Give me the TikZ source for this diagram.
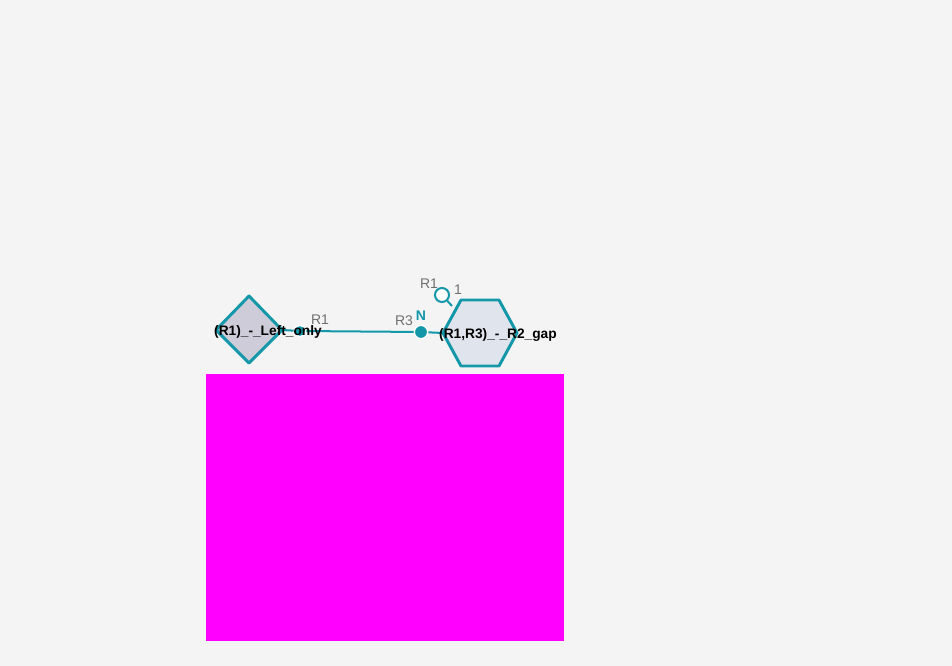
\documentclass[tikz,border=0pt]{standalone}
\usepackage{fontspec}
\setmainfont{Liberation Sans}
\usetikzlibrary{shapes.geometric}
\definecolor{bg}{HTML}{F4F4F4}
\definecolor{teal1}{HTML}{1397A9}
\definecolor{dfill}{HTML}{CDCCD8}
\definecolor{hfill}{HTML}{E0E4EC}
\definecolor{lbl}{HTML}{707070}
\definecolor{mag}{HTML}{FF00FF}
\tikzset{
  x=0.75pt, y=-0.75pt,
  bond/.style={draw=teal1, line width=1.5pt},
  rlabel/.style={text=lbl, font=\fontsize{10.5}{11}\selectfont, inner sep=0pt},
  namelabel/.style={text=black, font=\bfseries\fontsize{10.3}{11}\selectfont, inner sep=0pt},
  atomdot/.style={circle, fill=teal1, draw=white, line width=1pt, inner sep=0pt, minimum size=10pt},
  opendot/.style={circle, fill=white, draw=teal1, line width=1.5pt, inner sep=0pt, minimum size=10.5pt},
}
\begin{document}
\begin{tikzpicture}
\fill[bg] (0,0) rectangle (952,666);
\useasboundingbox (0,0) rectangle (952,666);
% magenta block
\fill[mag] (206,374) rectangle (564,641);
% diamond
\draw[draw=teal1, fill=dfill, line width=2.2pt, line join=round]
  (249,296) -- (282,330) -- (249,363) -- (216,330) -- cycle;
\coordinate (dR) at (282,330);
% hexagon
\draw[draw=teal1, fill=hfill, line width=2.2pt, line join=round]
  (443,333) -- (461,300) -- (499,300) -- (517,333) -- (499,366) -- (461,366) -- cycle;
\coordinate (hL) at (443,333);
\coordinate (hTL) at (452,306);
% connectors
\node[atomdot, minimum size=8.5pt] (d1) at (300,331) {};
\node[atomdot] (n1) at (421,332) {};
\node[opendot] (o1) at (442,295) {};
\draw[bond] (dR) -- (d1);
\draw[bond] (d1) -- (n1);
\draw[bond] (n1) -- (hL);
\draw[bond] (o1) -- (hTL);
% labels
\node[rlabel] (l1) at (320,320) {R1};
\node[rlabel] (l2) at (404,321) {R3};
\node[text=teal1, font=\bfseries\fontsize{10.5}{11}\selectfont, inner sep=0pt] (nN) at (421,316) {N};
\node[rlabel] (l3) at (429,284) {R1};
\node[rlabel] (l4) at (458,290) {1};
\node[namelabel] (t1) at (268,332) {(R1)\_-\_Left\_only};
\node[namelabel] (t2) at (498,335) {(R1,R3)\_-\_R2\_gap};
\end{tikzpicture}
\end{document}
